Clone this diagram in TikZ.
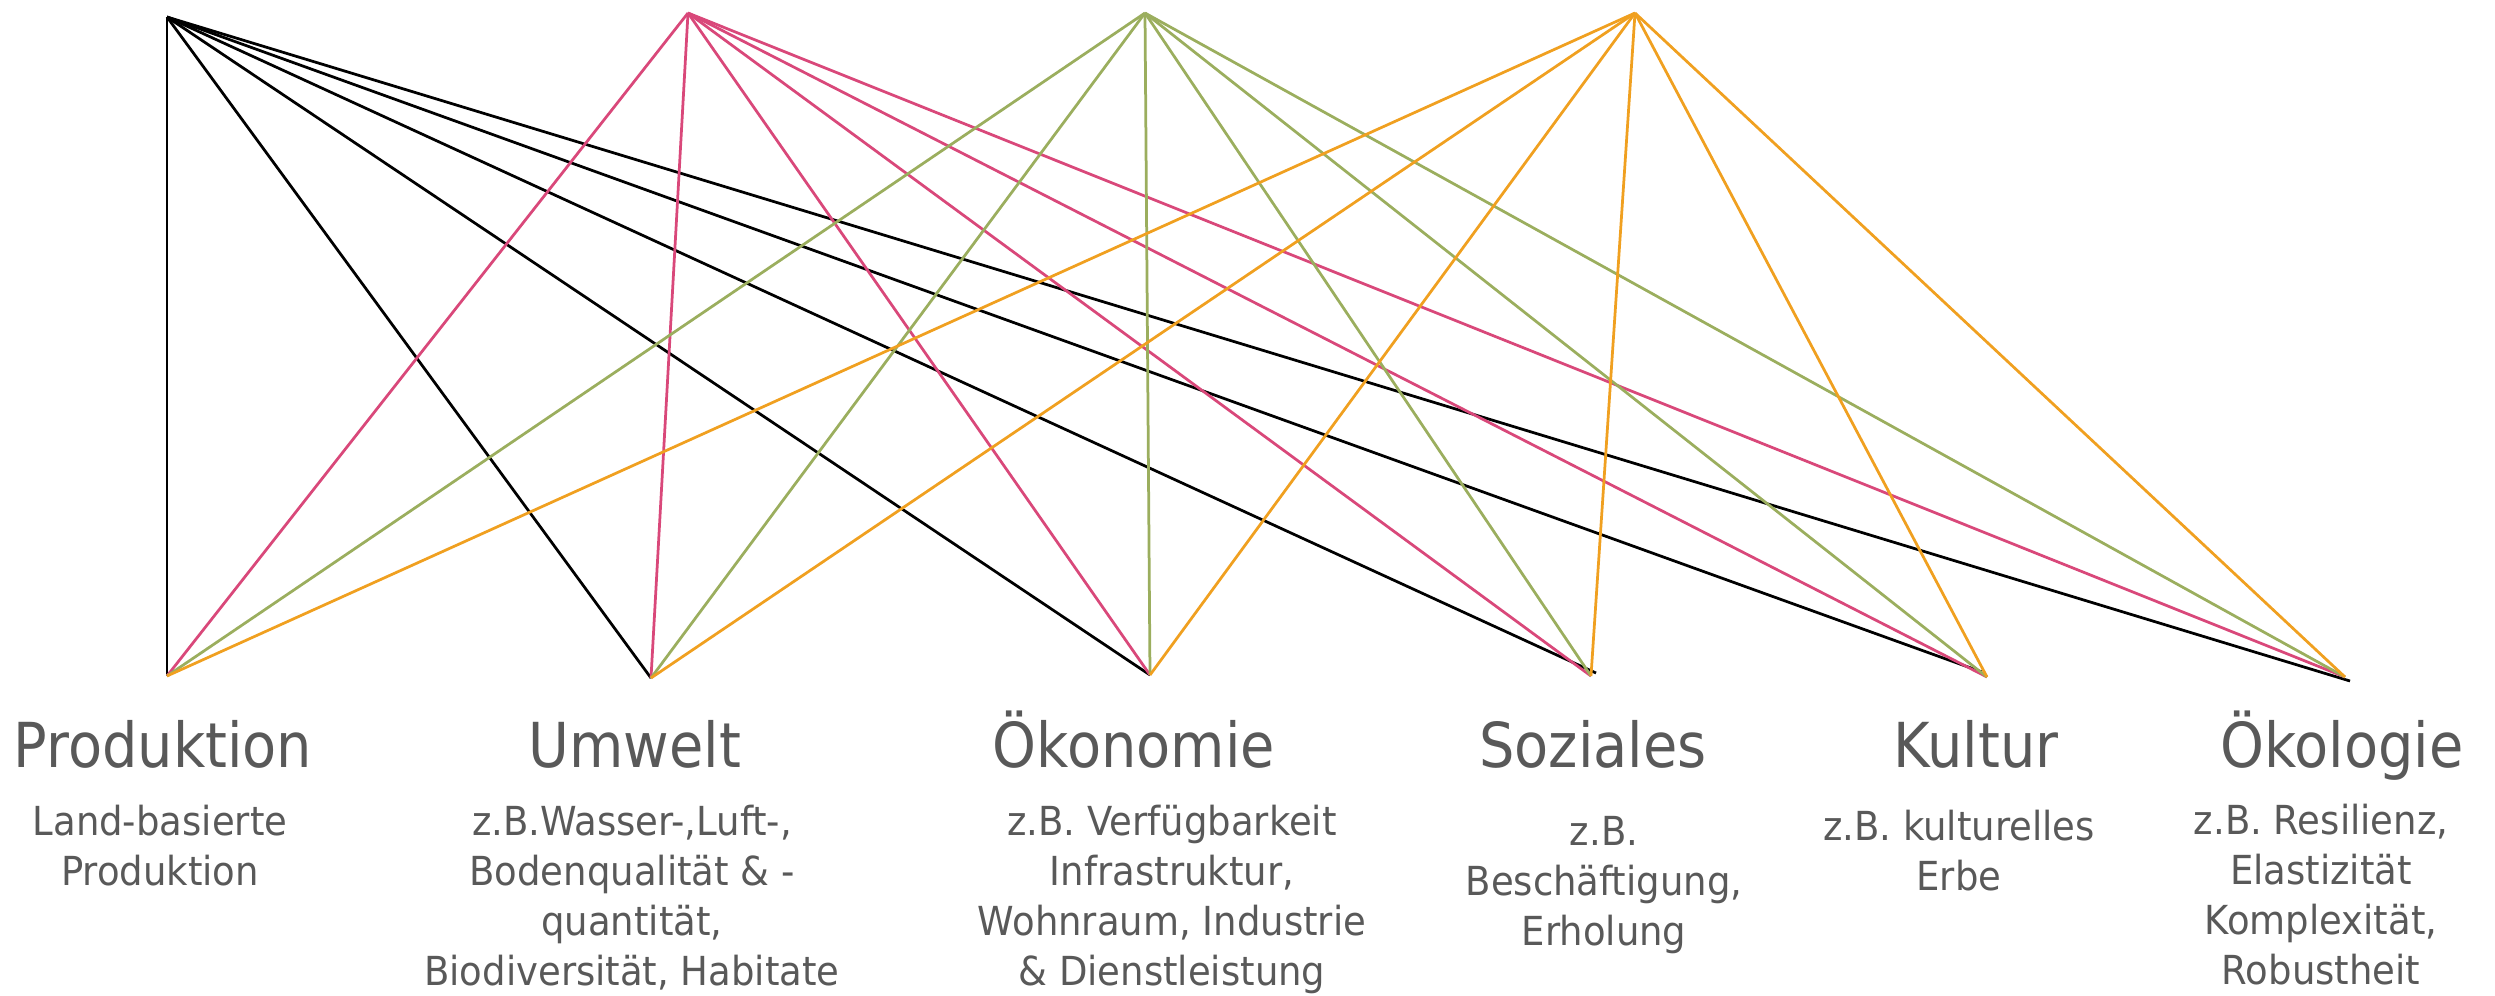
\documentclass[tikz,border=0pt]{standalone}
\usepackage{fontspec}
\newfontfamily\headfont{DejaVu Sans}[FakeStretch=0.9]
\newfontfamily\subfont{DejaVu Sans}[FakeStretch=0.925]
\definecolor{txtgray}{HTML}{595959}
\definecolor{lpink}{HTML}{D9487A}
\definecolor{lgreen}{HTML}{9BAE5E}
\definecolor{lorange}{HTML}{F0A020}
\tikzset{
  conn/.style={line width=1.1pt},
  blk/.style={conn, black},
  pnk/.style={conn, lpink},
  grn/.style={conn, lgreen},
  org/.style={conn, lorange},
  head/.style={font={\headfont\fontsize{24.8}{30}\selectfont}, text=txtgray, anchor=base, inner sep=0pt},
  sub/.style={font={\subfont\fontsize{16}{20}\selectfont}, text=txtgray, anchor=base, align=center, inner sep=0pt},
}
\begin{document}
\begin{tikzpicture}[x=0.4pt, y=-0.4pt]
\useasboundingbox (0,0) rectangle (2495,995);
% top points
\coordinate (tb) at (167,17);
\coordinate (tp) at (688,13);
\coordinate (tg) at (1145,13);
\coordinate (to) at (1635,13);
% bottom points
\coordinate (bP) at (167,676);
\coordinate (bU) at (651,678);
\coordinate (bO) at (1150,675);
\coordinate (bS) at (1591,676);
\coordinate (bSk) at (1596,673);
\coordinate (bK) at (1987,677);
\coordinate (bKk) at (1982,672);
\coordinate (bE) at (2345,677);
\coordinate (bEk) at (2350,681);
% connectors
\foreach \e in {bP,bU,bO,bSk,bKk,bEk} \draw[blk] (tb) -- (\e);
\foreach \e in {bP,bU,bO,bS,bK,bE} \draw[pnk] (tp) -- (\e);
\foreach \e in {bP,bU,bO,bS,bK,bE} \draw[grn] (tg) -- (\e);
\foreach \e in {bP,bU,bO,bS,bK,bE} \draw[org] (to) -- (\e);
% headings
\node[head] (hP) at (163,767) {Produktion};
\node[head] (hU) at (635,767) {Umwelt};
\node[head] (hO) at (1134,767) {Ökonomie};
\node[head] (hS) at (1593,767) {Soziales};
\node[head] (hK) at (1976,767) {Kultur};
\node[head] (hE) at (2342,767) {Ökologie};
% descriptions (anchor = baseline of last line)
\node[sub] (sP) at (160,885) {Land-basierte\\Produktion};
\node[sub] (sU) at (632,985) {z.B.Wasser-,Luft-,\\Bodenqualität \& -\\quantität,\\Biodiversität, Habitate};
\node[sub] (sO) at (1172,985) {z.B. Verfügbarkeit\\Infrastruktur,\\Wohnraum, Industrie\\\& Dienstleistung};
\node[sub] (sS) at (1604,945) {z.B.\\Beschäftigung,\\Erholung};
\node[sub] (sK) at (1959,890) {z.B. kulturelles\\Erbe};
\node[sub] (sE) at (2321,984) {z.B. Resilienz,\\Elastizität\\Komplexität,\\Robustheit};
\end{tikzpicture}
\end{document}
